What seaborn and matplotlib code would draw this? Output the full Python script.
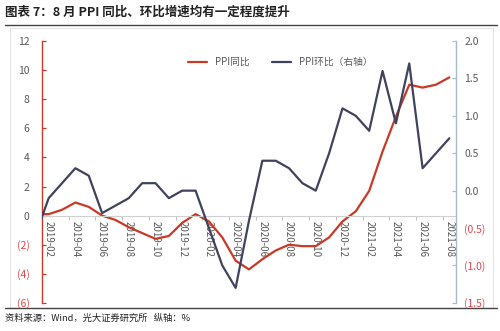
import matplotlib
matplotlib.use("Agg")
import matplotlib.pyplot as plt
from matplotlib.lines import Line2D
from matplotlib.patches import Rectangle
from matplotlib.ticker import FixedLocator
import seaborn as sns
import pandas as pd

# Monthly PPI series, 2019-01 .. 2021-08 (2019-01 only feeds the clipped lead-in segment)
months = pd.period_range("2019-01", "2021-08", freq="M").strftime("%Y-%m").tolist()
ppi_yoy = [0.1, 0.1, 0.4, 0.9, 0.6, 0.0, -0.3, -0.8, -1.2, -1.6, -1.4, -0.5,
           0.1, -0.4, -1.5, -3.1, -3.7, -3.0, -2.4, -2.0, -2.1, -2.1, -1.5, -0.4,
           0.3, 1.7, 4.4, 6.8, 9.0, 8.8, 9.0, 9.5]
ppi_mom = [-0.6, -0.1, 0.1, 0.3, 0.2, -0.3, -0.2, -0.1, 0.1, 0.1, -0.1, 0.0,
           0.0, -0.5, -1.0, -1.3, -0.4, 0.4, 0.4, 0.3, 0.1, 0.0, 0.5, 1.1,
           1.0, 0.8, 1.6, 0.9, 1.7, 0.3, 0.5, 0.7]
labels = ["PPI同比", "PPI环比（右轴）"]
title = "图表 7：8 月 PPI 同比、环比增速均有一定程度提升"
source = "资料来源：Wind，光大证券研究所   纵轴：%"

RED = "#c93a26"
NAVY = "#40425e"
GREY_TXT = "#595959"
NEG_TXT = "#e0474c"
AXIS_BLUE = "#a9bccb"

sns.set_theme(style="white")
plt.rcParams["font.family"] = ["Noto Sans CJK SC", "DejaVu Sans"]

df = pd.DataFrame({"pos": range(len(months)), "month": months,
                   "yoy": ppi_yoy, "mom": ppi_mom})

fig = plt.figure(figsize=(5, 3.31), dpi=100)
ax = fig.add_axes([0.084, 0.085, 0.828, 0.791])
ax2 = ax.twinx()

sns.lineplot(data=df, x="pos", y="yoy", ax=ax, color=RED, linewidth=1.6)
sns.lineplot(data=df, x="pos", y="mom", ax=ax2, color=NAVY, linewidth=1.6)

ax.set_xlim(0.5, len(months) - 0.5)
ax.set_ylim(-6, 12)
ax2.set_ylim(-1.5, 2.0)

# category axis crosses the left scale at zero
ax.spines["bottom"].set_position(("data", 0))
ax.spines["bottom"].set_color("#d0d0d0")
ax.spines["bottom"].set_linewidth(0.8)

# x labels every two months, read top-down
ax.set_xticks(df["pos"][1::2])
ax.set_xticklabels(df["month"][1::2])
ax.xaxis.set_minor_locator(FixedLocator([p - 0.5 for p in df["pos"][3::2]]))
ax.tick_params(axis="x", which="major", length=0, pad=4, labelsize=7,
               labelcolor=GREY_TXT, labelrotation=-90)
ax.tick_params(axis="x", which="minor", length=3, width=0.7, color="#bfbfbf",
               direction="out", bottom=True)
for t in ax.get_xticklabels():
    t.set_va("top")
    t.set_ha("center")

def paren(v, fmt):
    return "(" + fmt.format(abs(v)) + ")" if v < 0 else fmt.format(v)

left_ticks = list(range(-6, 13, 2))
ax.set_yticks(left_ticks)
ax.set_yticklabels([paren(v, "{:.0f}") for v in left_ticks], fontsize=7.5)
for v, t in zip(left_ticks, ax.get_yticklabels()):
    t.set_color(NEG_TXT if v < 0 else GREY_TXT)
ax.tick_params(axis="y", direction="in", length=3, width=0.9, color=RED, pad=9,
               left=True)

right_ticks = [-1.5, -1.0, -0.5, 0.0, 0.5, 1.0, 1.5, 2.0]
ax2.set_yticks(right_ticks)
ax2.set_yticklabels([paren(v, "{:.1f}") for v in right_ticks], fontsize=7.5)
for v, t in zip(right_ticks, ax2.get_yticklabels()):
    t.set_color(NEG_TXT if v < 0 else GREY_TXT)
ax2.tick_params(axis="y", direction="in", length=3, width=0.9, color=AXIS_BLUE,
                pad=6, right=True)

for a in (ax, ax2):
    a.set_xlabel("")
    a.set_ylabel("")
    a.spines["top"].set_visible(False)
    a.grid(False)
ax.spines["right"].set_visible(False)
ax2.spines["bottom"].set_visible(False)
ax2.spines["left"].set_visible(False)
ax.spines["left"].set_color(RED)
ax.spines["left"].set_linewidth(1.0)
ax2.spines["right"].set_color(AXIS_BLUE)
ax2.spines["right"].set_linewidth(1.0)
ax.patch.set_alpha(0)

handles = [Line2D([], [], color=RED, lw=1.6), Line2D([], [], color=NAVY, lw=1.6)]
ax.legend(handles, labels, loc="center", bbox_to_anchor=(0.575, 0.92), ncol=2,
          frameon=False, fontsize=7, handlelength=2.0, handletextpad=0.8,
          columnspacing=2.3, labelcolor=GREY_TXT)

# page furniture: title, rules, chart frame and source note
W, H = 500, 331
fig.text(5 / W, 1 - 12 / H, title, fontsize=9, fontweight="bold", color="#222222",
         ha="left", va="center")
fig.add_artist(Line2D([5 / W, 497 / W], [1 - 24.7 / H] * 2, color="#444444", lw=1.0))
fig.add_artist(Rectangle((10 / W, 1 - 308 / H), 483 / W, 280 / H, fill=False,
                         edgecolor="#e3e3e3", lw=0.8, zorder=0))
fig.add_artist(Line2D([5 / W, 497 / W], [1 - 308 / H] * 2, color="#444444", lw=1.0))
fig.text(5 / W, 1 - 318 / H, source, fontsize=6.7, color="#222222",
         ha="left", va="center")

fig.savefig("out.png", dpi=100)
